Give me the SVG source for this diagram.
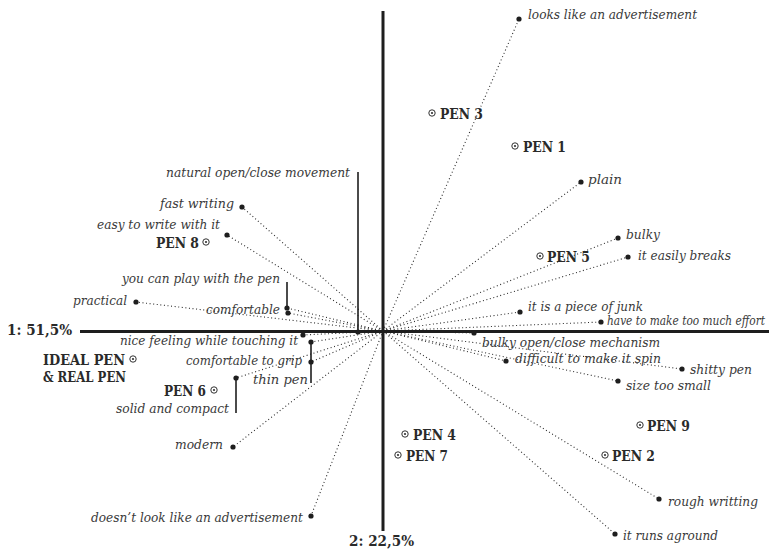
<svg xmlns="http://www.w3.org/2000/svg" width="773" height="549" viewBox="0 0 773 549">
  <style>
    .lbl { font-family: "DejaVu Serif", "Liberation Serif", serif; font-style: italic; font-size: 13.5px; fill: #3a3a3a; }
    .pen { font-family: "DejaVu Serif", "Liberation Serif", serif; font-weight: bold; font-size: 14px; fill: #2a2a2a; }
    .axis { stroke: #1e1e1e; stroke-width: 3; fill: none; }
    .ray { stroke: #2a2a2a; stroke-width: 1.1; stroke-dasharray: 1 2.6; fill: none; }
    .lead { stroke: #1e1e1e; stroke-width: 1.6; fill: none; }
    .dot { fill: #1e1e1e; }
    .mark { fill: none; stroke: #333; stroke-width: 1; }
  </style>
  <defs>
    <g id="penmark">
      <circle class="mark" r="3.2"/>
      <circle r="1.1" fill="#333"/>
    </g>
  </defs>
  <rect width="773" height="549" fill="#ffffff"/>

  <!-- rays from the origin to each attribute -->
  <g id="connectors">
    <path class="ray" d="M383 331 L519 19"/>
    <path class="ray" d="M383 331 L581 182"/>
    <path class="ray" d="M383 331 L618 238"/>
    <path class="ray" d="M383 331 L628 257"/>
    <path class="ray" d="M383 331 L520 312"/>
    <path class="ray" d="M383 331 L601 322"/>
    <path class="ray" d="M383 331 L474 333"/>
    <path class="ray" d="M383 331 L506 361"/>
    <path class="ray" d="M383 331 L682 369"/>
    <path class="ray" d="M383 331 L618 381"/>
    <path class="ray" d="M383 331 L659 499"/>
    <path class="ray" d="M383 331 L615 534"/>
    <path class="ray" d="M383 331 L311 516"/>
    <path class="ray" d="M383 331 L233 447"/>
    <path class="ray" d="M383 331 L236 378"/>
    <path class="ray" d="M383 331 L311 342"/>
    <path class="ray" d="M383 331 L311 362"/>
    <path class="ray" d="M383 331 L303 335"/>
    <path class="ray" d="M383 331 L288 313"/>
    <path class="ray" d="M383 331 L287 308"/>
    <path class="ray" d="M383 331 L136 302"/>
    <path class="ray" d="M383 331 L227 235"/>
    <path class="ray" d="M383 331 L242 207"/>
    <path class="ray" d="M383 331 L358 332"/>
    <!-- leader lines -->
    <path class="lead" d="M358 172 V332"/>
    <path class="lead" d="M287 282 V308"/>
    <path class="lead" d="M311 342 V383"/>
    <path class="lead" d="M236 378 V413"/>
  </g>

  <!-- axes -->
  <g id="axes">
    <path class="axis" d="M80 331.5 H769"/>
    <path class="axis" d="M383 11 V531"/>
    <text class="pen" x="7" y="335" textLength="65" lengthAdjust="spacingAndGlyphs">1: 51,5%</text>
    <text class="pen" x="349" y="546" textLength="65" lengthAdjust="spacingAndGlyphs">2: 22,5%</text>
  </g>

  <!-- attributes -->
  <g id="attr-advert"><circle class="dot" cx="519" cy="19" r="2.6"/><text class="lbl" x="528" y="19" textLength="169" lengthAdjust="spacingAndGlyphs">looks like an advertisement</text></g>
  <g id="attr-plain"><circle class="dot" cx="581" cy="182" r="2.6"/><text class="lbl" x="588" y="184" textLength="34" lengthAdjust="spacingAndGlyphs">plain</text></g>
  <g id="attr-bulky"><circle class="dot" cx="618" cy="238" r="2.6"/><text class="lbl" x="626" y="239" textLength="34" lengthAdjust="spacingAndGlyphs">bulky</text></g>
  <g id="attr-breaks"><circle class="dot" cx="628" cy="257" r="2.6"/><text class="lbl" x="638" y="260" textLength="93" lengthAdjust="spacingAndGlyphs">it easily breaks</text></g>
  <g id="attr-junk"><circle class="dot" cx="520" cy="312" r="2.6"/><text class="lbl" x="528" y="311" textLength="115" lengthAdjust="spacingAndGlyphs">it is a piece of junk</text></g>
  <g id="attr-effort"><circle class="dot" cx="601" cy="322" r="2.6"/><text class="lbl" x="607" y="325" textLength="158" lengthAdjust="spacingAndGlyphs">have to make too much effort</text></g>
  <g id="attr-mechanism"><circle class="dot" cx="474" cy="333" r="2.6"/><text class="lbl" x="482" y="347" textLength="178" lengthAdjust="spacingAndGlyphs">bulky open/close mechanism</text></g>
  <g id="attr-spin"><circle class="dot" cx="506" cy="361" r="2.6"/><text class="lbl" x="515" y="363" textLength="146" lengthAdjust="spacingAndGlyphs">difficult to make it spin</text></g>
  <g id="attr-shitty"><circle class="dot" cx="682" cy="369" r="2.6"/><text class="lbl" x="690" y="374" textLength="62" lengthAdjust="spacingAndGlyphs">shitty pen</text></g>
  <g id="attr-small"><circle class="dot" cx="618" cy="381" r="2.6"/><text class="lbl" x="626" y="390" textLength="85" lengthAdjust="spacingAndGlyphs">size too small</text></g>
  <g id="attr-rough"><circle class="dot" cx="659" cy="499" r="2.6"/><text class="lbl" x="668" y="506" textLength="90" lengthAdjust="spacingAndGlyphs">rough writting</text></g>
  <g id="attr-aground"><circle class="dot" cx="615" cy="534" r="2.6"/><text class="lbl" x="623" y="540" textLength="95" lengthAdjust="spacingAndGlyphs">it runs aground</text></g>
  <g id="attr-noadvert"><circle class="dot" cx="311" cy="516" r="2.6"/><text class="lbl" x="91" y="522" textLength="212" lengthAdjust="spacingAndGlyphs">doesn’t look like an advertisement</text></g>
  <g id="attr-modern"><circle class="dot" cx="233" cy="447" r="2.6"/><text class="lbl" x="175" y="449" textLength="48" lengthAdjust="spacingAndGlyphs">modern</text></g>
  <g id="attr-solid"><circle class="dot" cx="236" cy="378" r="2.6"/><text class="lbl" x="116" y="413" textLength="113" lengthAdjust="spacingAndGlyphs">solid and compact</text></g>
  <g id="attr-thin"><circle class="dot" cx="311" cy="342" r="2.6"/><text class="lbl" x="253" y="384" textLength="55" lengthAdjust="spacingAndGlyphs">thin  pen</text></g>
  <g id="attr-grip"><circle class="dot" cx="311" cy="362" r="2.6"/><text class="lbl" x="186" y="365" textLength="116" lengthAdjust="spacingAndGlyphs">comfortable to grip</text></g>
  <g id="attr-nice"><circle class="dot" cx="303" cy="335" r="2.6"/><text class="lbl" x="120" y="345" textLength="178" lengthAdjust="spacingAndGlyphs">nice feeling while touching it</text></g>
  <g id="attr-comfortable"><circle class="dot" cx="288" cy="313" r="2.6"/><text class="lbl" x="206" y="314" textLength="74" lengthAdjust="spacingAndGlyphs">comfortable</text></g>
  <g id="attr-play"><circle class="dot" cx="287" cy="308" r="2.6"/><text class="lbl" x="122" y="283" textLength="158" lengthAdjust="spacingAndGlyphs">you can play with the pen</text></g>
  <g id="attr-practical"><circle class="dot" cx="136" cy="302" r="2.6"/><text class="lbl" x="73" y="305" textLength="54" lengthAdjust="spacingAndGlyphs">practical</text></g>
  <g id="attr-easy"><circle class="dot" cx="227" cy="235" r="2.6"/><text class="lbl" x="97" y="229" textLength="123" lengthAdjust="spacingAndGlyphs">easy to write with it</text></g>
  <g id="attr-fast"><circle class="dot" cx="242" cy="207" r="2.6"/><text class="lbl" x="160" y="208" textLength="74" lengthAdjust="spacingAndGlyphs">fast writing</text></g>
  <g id="attr-natural"><circle class="dot" cx="358" cy="332" r="2.6"/><text class="lbl" x="166" y="177" textLength="184" lengthAdjust="spacingAndGlyphs">natural open/close movement</text></g>

  <!-- pens -->
  <g id="pen-1"><use href="#penmark" x="515" y="146"/><text class="pen" x="523" y="152" textLength="43" lengthAdjust="spacingAndGlyphs">PEN 1</text></g>
  <g id="pen-2"><use href="#penmark" x="605" y="455"/><text class="pen" x="612" y="461" textLength="43" lengthAdjust="spacingAndGlyphs">PEN 2</text></g>
  <g id="pen-3"><use href="#penmark" x="432" y="113"/><text class="pen" x="440" y="119" textLength="43" lengthAdjust="spacingAndGlyphs">PEN 3</text></g>
  <g id="pen-4"><use href="#penmark" x="405" y="434"/><text class="pen" x="413" y="440" textLength="43" lengthAdjust="spacingAndGlyphs">PEN 4</text></g>
  <g id="pen-5"><use href="#penmark" x="540" y="256"/><text class="pen" x="547" y="262" textLength="43" lengthAdjust="spacingAndGlyphs">PEN 5</text></g>
  <g id="pen-6"><use href="#penmark" x="214" y="390"/><text class="pen" x="164" y="396" textLength="42" lengthAdjust="spacingAndGlyphs">PEN 6</text></g>
  <g id="pen-7"><use href="#penmark" x="398" y="455"/><text class="pen" x="406" y="461" textLength="42" lengthAdjust="spacingAndGlyphs">PEN 7</text></g>
  <g id="pen-8"><use href="#penmark" x="206" y="242"/><text class="pen" x="156" y="248" textLength="43" lengthAdjust="spacingAndGlyphs">PEN 8</text></g>
  <g id="pen-9"><use href="#penmark" x="640" y="425"/><text class="pen" x="647" y="431" textLength="43" lengthAdjust="spacingAndGlyphs">PEN 9</text></g>
  <g id="pen-ideal"><use href="#penmark" x="133" y="359"/><text class="pen" x="43" y="365" textLength="82" lengthAdjust="spacingAndGlyphs">IDEAL PEN</text><text class="pen" x="43" y="382" textLength="83" lengthAdjust="spacingAndGlyphs">&amp; REAL PEN</text></g>
</svg>
